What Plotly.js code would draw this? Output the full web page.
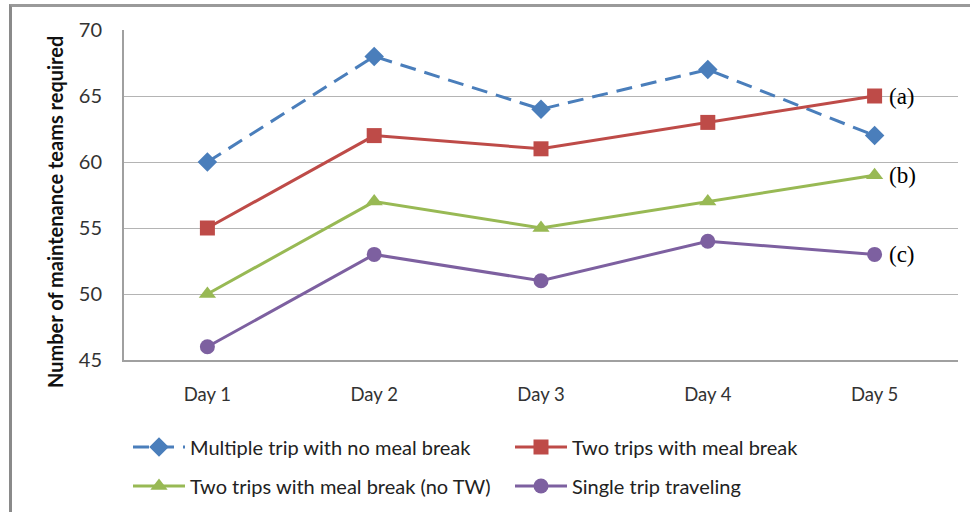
<!DOCTYPE html>
<html>
<head>
<meta charset="utf-8">
<script src="https://cdn.plot.ly/plotly-3.0.1.min.js"></script>
<style>
html,body{margin:0;padding:0;background:#fff;}
#frame{position:absolute;left:9px;top:4px;width:975px;height:520px;border-left:3px solid #8a8a8a;border-top:3px solid #9a9a9a;}
#chart{position:absolute;left:0;top:0;width:970px;height:512px;}
</style>
</head>
<body>
<div id="frame"></div>
<div id="chart"></div>
<script>
var days = ["Day 1", "Day 2", "Day 3", "Day 4", "Day 5"];
var seriesNames = ["Multiple trip with no meal break", "Two trips with meal break", "Two trips with meal break (no TW)", "Single trip traveling"];
var multipleTrip = [60, 68, 64, 67, 62];
var twoTrips = [55, 62, 61, 63, 65];
var twoTripsNoTW = [50, 57, 55, 57, 59];
var singleTrip = [46, 53, 51, 54, 53];
var yTicks = [45, 50, 55, 60, 65, 70];
var labelText = ["(a)", "(b)", "(c)"];
var labelY = [65, 59, 53];
var yTitle = "Number of maintenance teams required";

var traces = [
  {x: days, y: multipleTrip, name: seriesNames[0], type: "scatter", mode: "lines+markers", legend: "legend",
   line: {color: "#4a7ebb", width: 3, dash: "16px,9px"}, marker: {symbol: "diamond", size: 15, color: "#4a7ebb"}},
  {x: days, y: twoTrips, name: seriesNames[1], type: "scatter", mode: "lines+markers", legend: "legend",
   line: {color: "#be4b48", width: 3}, marker: {symbol: "square", size: 15, color: "#be4b48"}},
  {x: days, y: twoTripsNoTW, name: seriesNames[2], type: "scatter", mode: "lines+markers", legend: "legend2",
   line: {color: "#98b954", width: 3}, marker: {symbol: "triangle-up", size: 15, color: "#98b954"}},
  {x: days, y: singleTrip, name: seriesNames[3], type: "scatter", mode: "lines+markers", legend: "legend2",
   line: {color: "#7d60a0", width: 3}, marker: {symbol: "circle", size: 15, color: "#7d60a0"}}
];

var annotations = labelText.map(function(t, i){
  return {x: days[4], y: labelY[i], xref: "x", yref: "y", text: t, showarrow: false,
    xanchor: "left", xshift: 12, font: {family: "Liberation Serif, Times New Roman, serif", size: 23, color: "#000"}};
});
annotations.push({x: 0, xref: "paper", xshift: -69, y: (360 - 212) / 330, yref: "paper",
  text: "<b>" + yTitle + "</b>", textangle: -90, showarrow: false, xanchor: "center", yanchor: "middle",
  font: {family: "Lato, Open Sans, sans-serif", size: 20, color: "#111"}});

var plotW = 970 - 124 - 12;
function lx(px){ return (px - 124) / plotW; }
function ly(px){ return (360 - px) / 330; }
var legFont = {family: "Lato, Open Sans, sans-serif", size: 20, color: "#222"};

var layout = {
  width: 970, height: 512,
  margin: {l: 124, r: 12, t: 30, b: 152, autoexpand: false},
  paper_bgcolor: "rgba(0,0,0,0)", plot_bgcolor: "#fff",
  font: {family: "Lato, Open Sans, sans-serif", color: "#333"},
  showlegend: true,
  legend: {orientation: "h", x: lx(128), xanchor: "left", y: ly(447), yanchor: "middle",
    font: legFont, entrywidth: 315, entrywidthmode: "pixels", itemwidth: 52, bgcolor: "rgba(0,0,0,0)"},
  legend2: {orientation: "h", x: lx(128), xanchor: "left", y: ly(486), yanchor: "middle",
    font: legFont, entrywidth: 315, entrywidthmode: "pixels", itemwidth: 52, bgcolor: "rgba(0,0,0,0)"},
  xaxis: {type: "category", range: [-0.5, 4.5], showgrid: false, showline: true, linecolor: "#a0a0a0", linewidth: 2,
    ticks: "", tickfont: {size: 18.5, color: "#333"}, ticklabelstandoff: 17, fixedrange: true},
  yaxis: {range: [45, 70], tickvals: yTicks, showgrid: true, gridcolor: "#b4b4b4", gridwidth: 1,
    showline: true, linecolor: "#a0a0a0", linewidth: 2, zeroline: false, ticks: "",
    tickfont: {size: 20, color: "#333"}, ticklabelstandoff: 16},
  annotations: annotations
};

Plotly.newPlot("chart", traces, layout, {displayModeBar: false, staticPlot: true});
</script>
</body>
</html>
